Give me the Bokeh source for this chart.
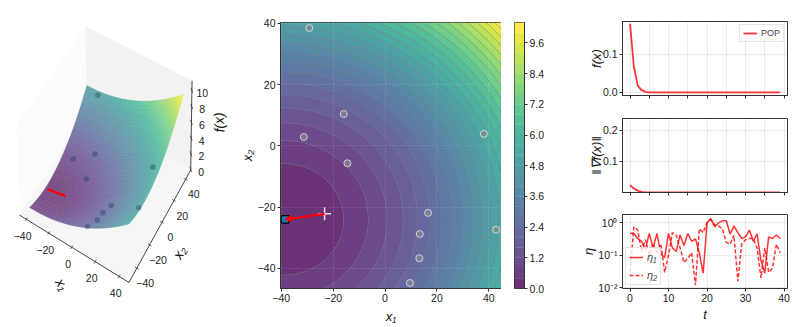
import numpy as np
from bokeh.embed import file_html
from bokeh.resources import INLINE
from bokeh.plotting import figure
from bokeh.layouts import row, column
from bokeh.models import (Range1d, FixedTicker, Label, Arrow, NormalHead, Legend, LegendItem)
from bokeh.palettes import Viridis256, linear_palette

FONT = "Liberation Sans"
TICK_PT = "10.5px"
LABEL_PT = "13px"

# ---------- data ----------
pop_x1 = [-29.2, -15.9, -31.3, -14.5, 38.1, 16.6, 13.4, 42.8, 13.2, 9.6]
pop_x2 = [38.5, 10.4, 2.9, -5.7, 3.9, -21.9, -28.8, -27.4, -36.7, -44.8]
start_x = [-23.3]
start_y = [-22.2]
end_x = [-38.5]
end_y = [-24.0]
centre = (-39.0, -24.0)
coef = (0.000756, 0.00121)
x1_lim = (-40.3, 44.9)
x2_lim = (-46.6, 40.3)
levels = [round(i * 0.4, 1) for i in range(27)]
cbar_ticks = [0, 1.2, 2.4, 3.6, 4.8, 6.0, 7.2, 8.4, 9.6]
main_ticks = [-40, -20, 0, 20, 40]

t = list(range(40))
f_vals = [0.18, 0.068, 0.018, 0.006, 0.0015] + [0.0003, 0.0001] + [0.0] * 33
g_vals = [0.023, 0.013, 0.006, 0.002, 0.0007] + [0.0002, 0.0001] + [0.0] * 33
eta1 = [0.48, 0.47, 0.33, 0.27, 0.15, 0.47, 0.17, 0.47, 0.11, 0.085,
        0.47, 0.17, 0.13, 0.42, 0.20, 0.47, 0.27, 0.32, 0.12, 0.028,
        1.0, 1.35, 0.75, 1.0, 1.15, 1.15, 0.45, 0.8, 0.5, 0.33,
        0.37, 0.6, 0.27, 0.45, 0.07, 0.028, 0.37, 0.33, 0.42, 0.33]
eta2 = [0.03, 0.75, 0.6, 0.13, 0.3, 0.1, 0.22, 0.12, 0.22, 0.03,
        0.1, 0.5, 0.42, 0.17, 0.06, 0.08, 0.12, 0.012, 0.65, 0.5,
        1.0, 1.25, 0.85, 0.8, 0.65, 0.25, 0.22, 0.42, 0.016, 0.22,
        0.3, 0.33, 0.33, 0.17, 0.02, 0.17, 0.03, 0.04, 0.22, 0.12]


def fval(a, b):
    return coef[0] * (np.asarray(a, float) - centre[0]) ** 2 + coef[1] * (np.asarray(b, float) - centre[1]) ** 2


# ---------- 3D panel: camera calibrated from what the picture shows ----------
box_x = (-46.0, 48.0)
box_y = (-52.0, 49.0)
box_z = (-0.1, 11.2)
cal_world = []
cal_px = []
pop_px = [(291, 282), (282, 455), (219, 471), (257, 529), (453, 493), (330, 606), (305, 628), (411, 614), (290, 651), (261, 670)]
for a, b, px in zip(pop_x1, pop_x2, pop_px):
    cal_world.append((a, b, float(fval(a, b))))
    cal_px.append(px)
for a, b, px in [(-40.3, -46.6, (93, 616)), (44.9, -46.6, (383, 665)), (44.9, 40.3, (548, 275)), (-40.3, 40.3, (258, 252)),
                 (-38.5, -24.0, (145, 560)), (-23.3, -22.2, (197, 578))]:
    cal_world.append((a, b, float(fval(a, b))))
    cal_px.append(px)
for v, px in zip(main_ticks, [(80, 668), (147, 708), (213, 748), (280, 788), (347, 828)]):
    cal_world.append((v, box_y[0], box_z[0]))
    cal_px.append(px)
for v, px in zip(main_ticks, [(415, 802), (450, 735), (483, 672), (520, 605), (555, 540)]):
    cal_world.append((box_x[1], v, box_z[0]))
    cal_px.append(px)
z_ticks = [0, 2, 4, 6, 8, 10]
for v, px in zip(z_ticks, [(568, 507), (572, 461), (574, 415), (576, 369), (578, 322), (580, 275)]):
    cal_world.append((box_x[1], box_y[1], v))
    cal_px.append(px)
for w, px in [((box_x[0], box_y[0], box_z[0]), (60, 655)), ((box_x[1], box_y[0], box_z[0]), (390, 850)),
              ((box_x[1], box_y[1], box_z[0]), (562, 510)), ((box_x[1], box_y[1], box_z[1]), (582, 248)),
              ((box_x[0], box_y[1], box_z[1]), (248, 78)), ((box_x[0], box_y[0], box_z[1]), (45, 380))]:
    cal_world.append(w)
    cal_px.append(px)
W = np.array(cal_world, float)
Pz = np.array(cal_px, float) / 3.0
A, B = [], []
for (X, Y, Z), (u, v) in zip(W, Pz):
    A.append([X, Y, Z, 1, 0, 0, 0, 0, -u * X, -u * Y, -u * Z])
    B.append(u)
    A.append([0, 0, 0, 0, X, Y, Z, 1, -v * X, -v * Y, -v * Z])
    B.append(v)
sol = np.linalg.lstsq(np.array(A), np.array(B), rcond=None)[0]


def reproject(s):
    h = np.append(s, 1.0).reshape(3, 4) @ np.c_[W, np.ones(len(W))].T
    return ((h[:2] / h[2]).T - Pz).ravel()


for _ in range(30):  # refine in pixel error
    r = reproject(sol)
    J = np.zeros((len(r), 11))
    for k in range(11):
        d = sol.copy()
        e = abs(sol[k]) * 1e-5 + 1e-9
        d[k] += e
        J[:, k] = (reproject(d) - r) / e
    sol = sol - np.linalg.lstsq(J, r, rcond=None)[0]
CAM = np.append(sol, 1.0).reshape(3, 4)


def proj(x, y, z):
    x, y, z = np.asarray(x, float), np.asarray(y, float), np.asarray(z, float)
    h = CAM @ np.array([x, y, z, np.ones_like(x)])
    return h[0] / h[2], h[1] / h[2]


a3 = figure(width=236, height=327, x_range=Range1d(0, 236), y_range=Range1d(327, 0),
            x_axis_type=None, y_axis_type=None, toolbar_location=None, output_backend="svg",
            min_border=0, outline_line_color=None, frame_align=False)
a3.grid.visible = False
xl, xh = box_x
yl, yh = box_y
zl, zh = box_z
panes = [([xl, xl, xl, xl], [yl, yl, yh, yh], [zl, zh, zh, zl], "#fbfbfb"),
         ([xl, xl, xh, xh], [yh, yh, yh, yh], [zl, zh, zh, zl], "#f2f2f2"),
         ([xl, xh, xh, xl], [yl, yl, yh, yh], [zl, zl, zl, zl], "#f6f6f6")]
for px, py, pz, col in panes:
    u, v = proj(px, py, pz)
    a3.patch(u, v, fill_color=col, line_color=None)

# surface
gx = np.linspace(x1_lim[0], x1_lim[1], 51)
gy = np.linspace(x2_lim[0], x2_lim[1], 51)
xs, ys, cols = [], [], []
zmax = float(fval(x1_lim[1], x2_lim[1]))
vir = np.array([[int(c[i:i + 2], 16) for i in (1, 3, 5)] for c in Viridis256], float)
for i in range(50):
    for j in range(50):
        qx = [gx[i], gx[i + 1], gx[i + 1], gx[i]]
        qy = [gy[j], gy[j], gy[j + 1], gy[j + 1]]
        qz = fval(qx, qy)
        u, v = proj(qx, qy, qz)
        xs.append(list(u))
        ys.append(list(v))
        col = vir[int(np.clip(np.mean(qz) / zmax * 255, 0, 255))] * 0.7 + 0.3 * 245
        cols.append("#%02x%02x%02x" % tuple(int(k) for k in col))
a3.patches(xs, ys, fill_color=cols, line_color=cols, line_width=0.4)

u, v = proj(pop_x1, pop_x2, fval(pop_x1, pop_x2))
a3.scatter(u, v, size=5.5, fill_color="#1a3a55", fill_alpha=0.4, line_color=None)
u, v = proj([start_x[0], end_x[0]], [start_y[0], end_y[0]], fval([start_x[0], end_x[0]], [start_y[0], end_y[0]]))
a3.line(u, v, line_color="#ff0000", line_width=2.2)

# box axes and ticks
AX = "#333333"
u, v = proj([xl, xh], [yl, yl], [zl, zl])
a3.line(u, v, line_color=AX, line_width=0.9)
u, v = proj([xh, xh], [yl, yh], [zl, zl])
a3.line(u, v, line_color=AX, line_width=0.9)
u, v = proj([xh, xh], [yh, yh], [zl, zh])
a3.line(u, v, line_color=AX, line_width=0.9)
tick_text = lambda n: str(n).replace("-", "\u2212")
for n in main_ticks:
    u, v = proj([n, n], [yl - 1.5, yl + 1.5], [zl, zl])
    a3.line(u, v, line_color=AX, line_width=0.8)
    a3.text([u[0] - 2.5], [v[0] + 15], text=[tick_text(n)], text_font={"value": FONT}, text_font_size=TICK_PT,
            text_align="center", text_baseline="middle", text_color="#222222")
    u, v = proj([xh + 1.5, xh - 1.5], [n, n], [zl, zl])
    a3.line(u, v, line_color=AX, line_width=0.8)
    a3.text([u[0] + 6.5], [v[0] + 14], text=[tick_text(n)], text_font={"value": FONT}, text_font_size=TICK_PT,
            text_align="center", text_baseline="middle", text_color="#222222")
for n in z_ticks:
    u, v = proj([xh - 1.5, xh + 1.5], [yh + 1.5, yh - 1.5], [n, n])
    a3.line(u, v, line_color=AX, line_width=0.8)
    a3.text([u[1] + 9.5], [v[1]], text=[tick_text(n)], text_font={"value": FONT}, text_font_size=TICK_PT,
            text_align="center", text_baseline="middle", text_color="#222222")
for txt, lx, ly, ang in [("x\u2081", 61.5, 284, -1.05), ("x\u2082", 179, 252, 1.05), ("f(x)", 218.5, 122, 1.62)]:
    a3.text([lx], [ly], text=[txt], text_font={"value": FONT}, text_font_size="14px", text_font_style="italic",
            text_align="center", text_baseline="middle", text_color="#111111", angle=ang)

# ---------- contour panel ----------
c = figure(width=265, height=327, x_range=Range1d(*x1_lim), y_range=Range1d(*x2_lim),
           toolbar_location=None, output_backend="svg", frame_align=False,
           min_border_left=44, min_border_right=0, min_border_top=22, min_border_bottom=39,
           outline_line_color="#333333", background_fill_color="#7a8a9a")
cx = np.linspace(x1_lim[0], x1_lim[1], 170)
cy = np.linspace(x2_lim[0], x2_lim[1], 174)
XX, YY = np.meshgrid(cx, cy)
ZZ = fval(XX, YY)
palette = linear_palette(Viridis256, 26)
blended = []
for h in palette:  # the colours at 80% over white, opaque so that seams between bands stay quiet
    rgb = [int(h[i:i + 2], 16) * 0.8 + 0.2 * 255 for i in (1, 3, 5)]
    blended.append("#%02x%02x%02x" % tuple(int(k) for k in rgb))
cr = c.contour(cx, cy, ZZ, levels, fill_color=blended, fill_alpha=1.0, line_color="#7d7d90", line_alpha=0.5, line_width=0.8)
c.xaxis.ticker = FixedTicker(ticks=main_ticks)
c.yaxis.ticker = FixedTicker(ticks=main_ticks)
c.xaxis.axis_label = "x\u2081"
c.yaxis.axis_label = "x\u2082"
c.grid.ticker = FixedTicker(ticks=main_ticks)
c.grid.grid_line_color = "#ffffff"
c.grid.grid_line_alpha = 0.15
c.grid.grid_line_dash = "2 2"
c.grid.level = "overlay"

c.scatter(pop_x1, pop_x2, size=7, fill_color="#8a8a8a", fill_alpha=0.65, line_color="#ffffff", line_alpha=0.65, line_width=1)
c.scatter(end_x, end_y, marker="square", size=7.5, fill_color="#1f77b4", line_color="#000000", line_width=1.2)
c.add_layout(Arrow(end=NormalHead(size=6, fill_color="#ff0000", line_color="#ff0000"),
                   x_start=start_x[0], y_start=start_y[0], x_end=end_x[0], y_end=end_y[0],
                   line_color="#ff0000", line_width=2.2))
c.scatter(start_x, start_y, marker="cross", size=13, line_color="#ffffff", line_width=1.5, line_alpha=0.85)
c.add_layout(Label(x=2.3, y=43.6, text="POP Trajectory", text_font=FONT, text_font_size="14px",
                   text_font_style="bold", text_align="center", text_baseline="middle", text_color="#000000"))

# colour bar panel
cbf = figure(width=74, height=327, x_range=Range1d(0, 1), y_range=Range1d(levels[0], levels[-1]),
             x_axis_type=None, y_axis_location="right", toolbar_location=None, output_backend="svg", frame_align=False,
             min_border_left=13, min_border_right=51, min_border_top=22, min_border_bottom=39,
             outline_line_color="#333333")
cbf.grid.visible = False
cbf.quad(left=0, right=1, bottom=levels[:-1], top=levels[1:], fill_color=blended, line_color=blended, line_width=0.3)
cbf.yaxis.ticker = FixedTicker(ticks=cbar_ticks)
cbf.yaxis.major_label_overrides = {v: f"{v:.1f}" for v in cbar_ticks}


def style_axes(p):
    for ax in list(p.xaxis) + list(p.yaxis):
        ax.major_tick_in = 0
        ax.major_tick_out = 3
        ax.minor_tick_line_color = None
        ax.axis_line_color = "#333333"
        ax.major_tick_line_color = "#333333"
        ax.major_label_text_font = FONT
        ax.major_label_text_font_size = TICK_PT
        ax.major_label_text_color = "#222222"
        ax.major_label_standoff = 2
        ax.axis_label_text_font = FONT
        ax.axis_label_text_font_size = LABEL_PT
        ax.axis_label_text_font_style = "italic"
        ax.axis_label_text_color = "#111111"
        ax.axis_label_standoff = 4


style_axes(c)
style_axes(cbf)
c.yaxis.axis_label_standoff = 0
c.xaxis.axis_label_standoff = 4

# ---------- right column ----------
T_RANGE = (-1.95, 40.9)
RED = "#ff0000"
x_major = [0, 5, 10, 15, 20, 25, 30, 35, 40]


def small(height, top, bottom, yr, **kw):
    p = figure(width=218, height=height, x_range=Range1d(*T_RANGE), y_range=yr, toolbar_location=None,
               output_backend="svg", min_border_left=47, min_border_right=6, min_border_top=top,
               min_border_bottom=bottom, outline_line_color="#333333", frame_align=False, **kw)
    p.grid.grid_line_color = "#cccccc"
    p.grid.grid_line_alpha = 0.5
    p.grid.grid_line_width = 0.8
    return p


p1 = small(106, 21, 11, Range1d(-0.008, 0.186))
l1 = p1.line(t, f_vals, line_color=RED, line_alpha=0.8, line_width=1.8)
p1.yaxis.ticker = FixedTicker(ticks=[0.0, 0.1])
p1.yaxis.major_label_overrides = {0.0: "0.0", 0.1: "0.1"}
p1.xaxis.ticker = FixedTicker(ticks=x_major)
p1.yaxis.axis_label = "f(x)"
leg1 = Legend(items=[LegendItem(label="POP", renderers=[l1])], location="top_right", margin=3, padding=3,
              glyph_width=14, glyph_height=8, label_text_font=FONT, label_text_font_size="9px", label_width=16,
              label_standoff=4, background_fill_alpha=0.8, border_line_color="#cccccc", label_height=8)
p1.add_layout(leg1)

p2 = small(97, 12, 11, Range1d(0.0, 0.237))
p2.line(t, g_vals, line_color=RED, line_alpha=0.8, line_width=1.8)
p2.yaxis.ticker = FixedTicker(ticks=[0.1, 0.2])
p2.xaxis.ticker = FixedTicker(ticks=x_major)
p2.yaxis.axis_label = "\u2016\u2207f(x)\u2016"

p3 = small(124, 11, 39, Range1d(0.0095, 1.8), y_axis_type="log")
l31 = p3.line(t, eta1, line_color=RED, line_alpha=0.8, line_width=1.5)
l32 = p3.line(t, eta2, line_color=RED, line_alpha=0.8, line_width=1.5, line_dash="4 2")
p3.yaxis.ticker = FixedTicker(ticks=[0.01, 0.1, 1])
p3.yaxis.major_label_overrides = {0.01: "10\u207b\u00b2", 0.1: "10\u207b\u00b9", 1: "10\u2070"}
p3.xaxis.ticker = FixedTicker(ticks=[0, 10, 20, 30, 40])
p3.xaxis.axis_label = "t"
p3.yaxis.axis_label = "\u03b7"
leg3 = Legend(items=[LegendItem(label="\u03b7\u2081", renderers=[l31]), LegendItem(label="\u03b7\u2082", renderers=[l32])],
              location="bottom_left", margin=3, padding=3, glyph_width=14, glyph_height=10, label_text_font=FONT,
              label_text_font_size="11px", label_text_font_style="italic", label_standoff=4, spacing=6, label_width=9,
              background_fill_alpha=0.8, border_line_color="#cccccc", label_height=10)
p3.add_layout(leg3)

for p in (p1, p2, p3):
    style_axes(p)
for p in (p1, p2):
    p.xaxis.major_label_overrides = {v: "" for v in x_major}
    p.xaxis.major_label_text_font_size = "2px"
    p.xaxis.major_label_standoff = 0
    p.yaxis.axis_label_standoff = -4
p3.yaxis.axis_label_standoff = -1
p3.xaxis.axis_label_standoff = 2

col3 = column(p1, p2, p3, spacing=0, width=218, height=327, sizing_mode="fixed")
page = row(a3, c, cbf, col3, spacing=0, width=793, height=327, sizing_mode="fixed")
open("out.html", "w").write(file_html(page, INLINE))
